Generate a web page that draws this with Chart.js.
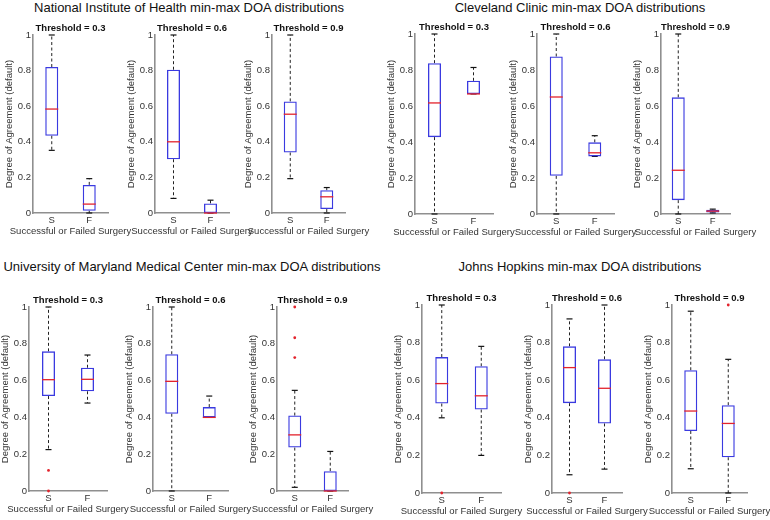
<!DOCTYPE html>
<html>
<head>
<meta charset="utf-8">
<script src="https://cdn.jsdelivr.net/npm/chart.js@4.4.1/dist/chart.umd.min.js"></script>
<style>
  html, body { margin: 0; padding: 0; background: #fff; }
  #page { position: relative; width: 770px; height: 520px; overflow: hidden; font-family: "Liberation Sans", Arial, sans-serif; }
  .group-title { position: absolute; width: 400px; text-align: center; font-size: 13px; line-height: 16px; color: #111; white-space: nowrap; }
  canvas { position: absolute; }
</style>
</head>
<body>
<div id="page">
  <div class="group-title" style="left:-11px; top:0px">National Institute of Health min-max DOA distributions</div>
  <div class="group-title" style="left:380px; top:0px">Cleveland Clinic min-max DOA distributions</div>
  <div class="group-title" style="left:-8px; top:259px">University of Maryland Medical Center min-max DOA distributions</div>
  <div class="group-title" style="left:380px; top:259px">Johns Hopkins min-max DOA distributions</div>
</div>
<script>
const categories = ['S', 'F'];
const thresholds = ['0.3', '0.6', '0.9'];

// box summaries, one row per threshold: [low whisker, q1, median, q3, high whisker]
const nihS = [[0.352, 0.434, 0.584, 0.82, 1.0], [0.082, 0.302, 0.40, 0.805, 1.0], [0.193, 0.34, 0.555, 0.627, 1.0]];
const nihF = [[0.0, 0.013, 0.05, 0.158, 0.193], [0.0, 0.0, 0.0, 0.054, 0.072], [0.0, 0.022, 0.091, 0.128, 0.143]];
const ccS = [[0.0, 0.427, 0.617, 0.838, 1.0], [0.0, 0.212, 0.65, 0.875, 1.0], [0.0, 0.077, 0.243, 0.648, 1.0]];
const ccF = [[0.667, 0.667, 0.667, 0.74, 0.814], [0.32, 0.32, 0.34, 0.398, 0.435], [0.006, 0.008, 0.016, 0.024, 0.027]];
const umS = [[0.225, 0.516, 0.605, 0.759, 1.0], [0.0, 0.42, 0.596, 0.743, 1.0], [0.02, 0.236, 0.305, 0.41, 0.547]];
const umF = [[0.478, 0.542, 0.607, 0.67, 0.739], [0.40, 0.40, 0.40, 0.456, 0.516], [0.0, 0.0, 0.0, 0.108, 0.215]];
const jhS = [[0.40, 0.476, 0.582, 0.723, 1.0], [0.097, 0.478, 0.667, 0.78, 0.926], [0.129, 0.33, 0.436, 0.653, 0.967]];
const jhF = [[0.2, 0.444, 0.517, 0.674, 0.78], [0.127, 0.37, 0.557, 0.711, 1.0], [0.0, 0.19, 0.37, 0.467, 0.711]];

// outliers per threshold
const nihOutS = [[], [], []];
const nihOutF = [[], [], []];
const ccOutS = [[], [], []];
const ccOutF = [[], [], []];
const umOutS = [[0.112, 0], [], [1.0, 0.833, 0.725]];
const umOutF = [[], [], []];
const jhOutS = [[0], [0], []];
const jhOutF = [[], [], [1.0]];

const AXIS = '#8f8f8f', TICK = '#333', BLUE = '#3a3ae0', RED = '#e3232c';
Chart.defaults.font.family = '"Liberation Sans", Arial, sans-serif';

// axis boxes in page pixels: left, right, top, bottom
const panels = [
  { s: nihS, f: nihF, os: nihOutS, of: nihOutF, boxes: [[33, 108, 35, 213], [155, 229, 35, 213], [272, 345, 35, 213]] },
  { s: ccS, f: ccF, os: ccOutS, of: ccOutF, boxes: [[415, 493, 34, 214], [537, 614, 34, 214], [661, 730, 34, 214]] },
  { s: umS, f: umF, os: umOutS, of: umOutF, boxes: [[29, 107, 307, 491], [153, 228, 307, 491], [277, 348, 307, 491]] },
  { s: jhS, f: jhF, os: jhOutS, of: jhOutF, boxes: [[422, 501, 305, 493], [552, 622, 305, 493], [672, 747, 305, 493]] }
];

function makeChart(box, rows, outs, threshold) {
  const [L, R, T, B] = box;
  const cv = document.createElement('canvas');
  // 36px each side: left for the y axis, right for an empty spacer axis
  const w = (R - L) + 72, h = (B - T) + 12 + 26;
  cv.width = w; cv.height = h;
  cv.style.left = (L - 36) + 'px';
  cv.style.top = (T - 12) + 'px';
  document.getElementById('page').appendChild(cv);

  const whiskers = [], caps = [], medians = [], outliers = [];
  rows.forEach((r, i) => {
    const c = categories[i];
    whiskers.push({ x: c, y: r[3] }, { x: c, y: r[4] }, { x: c, y: null }, { x: c, y: r[1] }, { x: c, y: r[0] }, { x: c, y: null });
    caps.push({ x: c, y: r[0] }, { x: c, y: r[4] });
    medians.push({ x: c, y: r[2] });
    outs[i].forEach(v => outliers.push({ x: c, y: v }));
  });

  new Chart(cv.getContext('2d'), {
    type: 'bar',
    data: {
      labels: categories,
      datasets: [
        { type: 'line', data: outliers, showLine: false, pointStyle: 'circle', pointRadius: 1.4, pointBackgroundColor: RED, pointBorderWidth: 0, clip: false },
        { type: 'line', data: medians, showLine: false, pointStyle: 'line', pointRadius: 6.5, pointBorderColor: RED, pointBorderWidth: 1.3, clip: false },
        {
          type: 'bar', data: rows.map(r => [r[1], r[3]]),
          backgroundColor: 'rgba(0,0,0,0)', borderColor: BLUE, borderWidth: 1.3, borderSkipped: false,
          barPercentage: 13 / ((R - L) / 2), categoryPercentage: 1, clip: false
        },
        { type: 'line', data: caps, showLine: false, pointStyle: 'line', pointRadius: 3, pointBorderColor: '#111', pointBorderWidth: 1.2, clip: false },
        { type: 'line', data: whiskers, borderColor: '#222', borderWidth: 1, borderDash: [3, 2.5], pointRadius: 0, spanGaps: false, clip: false }
      ]
    },
    options: {
      responsive: false,
      animation: false,
      events: [],
      devicePixelRatio: 1,
      plugins: {
        legend: { display: false },
        tooltip: { enabled: false },
        title: {
          display: true, text: 'Threshold = ' + threshold, fullSize: false, color: '#111',
          font: { size: 9.5, weight: 'bold', lineHeight: '11px' }, padding: { top: 0, bottom: 1 }
        },
        subtitle: {
          display: true, position: 'bottom', fullSize: true, text: 'Successful or Failed Surgery', color: TICK,
          font: { size: 9.5, lineHeight: '11px' }, padding: { top: 0, bottom: 2 }
        }
      },
      scales: {
        x: {
          type: 'category', offset: true,
          grid: { display: false, drawTicks: false },
          border: { display: true, color: AXIS, width: 1.6 },
          ticks: { color: TICK, font: { size: 9.5 }, padding: 2 },
          afterFit(s) { s.height = 13; }
        },
        y: {
          min: 0, max: 1,
          grid: { display: false, drawTicks: false },
          border: { display: true, color: AXIS, width: 1.6 },
          ticks: { stepSize: 0.2, color: TICK, font: { size: 9.5 }, padding: 2, callback: v => String(Number(v.toFixed(1))) },
          title: { display: true, text: 'Degree of Agreement (default)', color: TICK, font: { size: 9.5, lineHeight: '11px' }, padding: { top: 7, bottom: 0 } },
          afterFit(s) { s.width = 36; }
        },
        spacer: {
          position: 'right', min: 0, max: 1,
          grid: { display: false, drawTicks: false },
          border: { display: false },
          ticks: { display: false },
          afterFit(s) { s.width = 36; }
        }
      }
    }
  });
}

panels.forEach(p => {
  p.boxes.forEach((box, t) => {
    makeChart(box, [p.s[t], p.f[t]], [p.os[t], p.of[t]], thresholds[t]);
  });
});
</script>
</body>
</html>
